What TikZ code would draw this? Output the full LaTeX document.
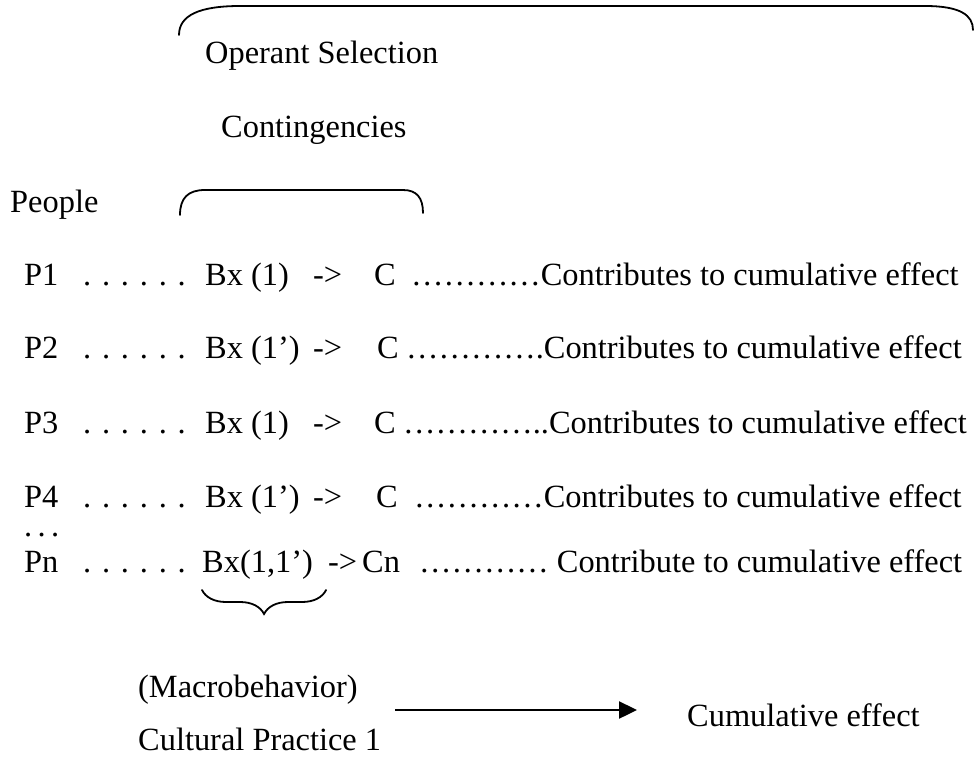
\documentclass[tikz,border=0pt]{standalone}
\usepackage{fontspec}
\setmainfont{Liberation Serif}
\usetikzlibrary{arrows.meta,decorations.pathreplacing}

\tikzset{
  txt/.style={anchor=base west,inner sep=0pt,font=\fontsize{32.4}{38}\selectfont},
  curly/.style={line width=1.8pt,line cap=round},
  flow/.style={line width=2.4pt,-{Triangle[length=18pt,width=17pt]}}
}

\begin{document}
\begin{tikzpicture}[x=1pt,y=1pt]
  \useasboundingbox (0,0) rectangle (974,-771);

  \node[txt] (operant) at (205,-63) {Operant Selection};
  \node[txt] (conting) at (221,-137) {Contingencies};
  \node[txt] (people) at (10,-212) {People};
  \draw[curly] (179,-35) .. controls (179,-15) and (200,-6) .. (240,-6) -- (925,-6) .. controls (960,-6) and (973,-15) .. (973,-30);
  \draw[curly] (180,-215) .. controls (180,-198) and (188,-190) .. (205,-190) -- (403,-190) .. controls (417,-190) and (423,-198) .. (423,-213);

  \node[txt] (p1) at (24,-285) {P1};
  \node[txt] (d1) at (83,-285) {. . . . . .};
  \node[txt] (bx1) at (205,-285) {Bx (1)};
  \node[txt] (ar1) at (313,-285) {->};
  \node[txt] (c1) at (374,-285) {C};
  \node[txt] (t1) at (411,-285) {…………Contributes to cumulative effect};

  \node[txt] (p2) at (24,-358) {P2};
  \node[txt] (d2) at (83,-358) {. . . . . .};
  \node[txt] (bx2) at (205,-358) {Bx (1’)};
  \node[txt] (ar2) at (313,-358) {->};
  \node[txt] (c2) at (377,-358) {C};
  \node[txt] (t2) at (406,-358) {………….Contributes to cumulative effect};

  \node[txt] (p3) at (24,-433) {P3};
  \node[txt] (d3) at (83,-433) {. . . . . .};
  \node[txt] (bx3) at (205,-433) {Bx (1)};
  \node[txt] (ar3) at (313,-433) {->};
  \node[txt] (c3) at (374,-433) {C};
  \node[txt] (t3) at (403,-433) {…………..Contributes to cumulative effect};

  \node[txt] (p4) at (24,-507) {P4};
  \node[txt] (d4) at (83,-507) {. . . . . .};
  \node[txt] (bx4) at (205,-507) {Bx (1’)};
  \node[txt] (ar4) at (313,-507) {->};
  \node[txt] (c4) at (376,-507) {C};
  \node[txt] (t4) at (414,-507) {…………Contributes to cumulative effect};

  \node[txt] (more) at (24,-536) {.\,.\,.};

  \node[txt] (pn) at (24,-572) {Pn};
  \node[txt] (dn) at (83,-572) {. . . . . .};
  \node[txt] (bxn) at (202,-572) {Bx(1,1’)};
  \node[txt] (arn) at (328,-572) {->};
  \node[txt] (cn) at (362,-572) {Cn};
  \node[txt] (tn) at (419,-572) {………… Contribute to cumulative effect};
  \draw[curly,decorate,decoration={brace,mirror,amplitude=24pt}] ([yshift=-18pt]bxn.base west) -- ([xshift=13pt,yshift=-18pt]bxn.base east);

  \node[txt] (macro) at (138,-697) {(Macrobehavior)};
  \node[txt] (cultural) at (138,-750) {Cultural Practice 1};
  \node[txt] (cumul) at (687,-726) {Cumulative effect};
  \coordinate (tail) at (395,-710);
  \coordinate (head) at (637,-710);
  \draw[flow] (tail) -- (head);
\end{tikzpicture}
\end{document}
